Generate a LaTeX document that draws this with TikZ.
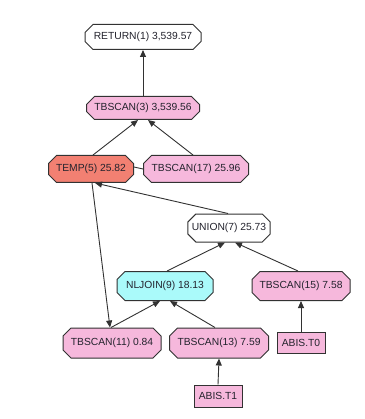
\documentclass[tikz,border=0pt]{standalone}
\usepackage{fontspec}
\setmainfont{Liberation Sans}
\usetikzlibrary{shapes.misc,arrows.meta}
\definecolor{pinkfill}{RGB}{246,184,220}
\definecolor{salmon}{RGB}{242,128,114}
\definecolor{cyanfill}{RGB}{170,250,250}
\definecolor{bordercol}{RGB}{50,50,50}
\definecolor{textcol}{RGB}{35,35,45}
\tikzset{
  op/.style={chamfered rectangle, chamfered rectangle xsep=4pt, chamfered rectangle ysep=4pt,
    draw=bordercol, line width=1pt, inner sep=0pt, font=\fontsize{10.3}{11}\selectfont,
    text=textcol},
  pinkop/.style={op, fill=pinkfill},
  tbl/.style={rectangle, draw=bordercol, line width=1pt, fill=pinkfill, inner sep=0pt,
    font=\fontsize{10.3}{11}\selectfont, text=textcol},
  edge/.style={draw=bordercol, line width=0.9pt, -{Triangle[length=7pt,width=6pt]}},
}
\begin{document}
\begin{tikzpicture}[x=1pt,y=-1pt]
\useasboundingbox (0,0) rectangle (364,419);
\fill[white] (0,0) rectangle (364,419);
\node[op, fill=white, minimum width=116pt, minimum height=25pt] (ret) at (143,37) {RETURN(1) 3,539.57};
\node[pinkop, minimum width=113pt, minimum height=23pt] (tb3) at (143,108) {TBSCAN(3) 3,539.56};
\node[op, fill=salmon, minimum width=85pt, minimum height=27pt] (temp) at (91,169) {TEMP(5) 25.82};
\node[pinkop, minimum width=105pt, minimum height=27pt] (tb17) at (196,169) {TBSCAN(17) 25.96};
\node[op, fill=white, minimum width=82pt, minimum height=28pt] (union) at (229,228) {UNION(7) 25.73};
\node[op, fill=cyanfill, minimum width=96pt, minimum height=29pt] (nl) at (165,286) {NLJOIN(9) 18.13};
\node[pinkop, minimum width=98pt, minimum height=29pt] (tb15) at (301,286) {TBSCAN(15) 7.58};
\node[pinkop, minimum width=98pt, minimum height=30pt] (tb11) at (112,343) {TBSCAN(11) 0.84};
\node[pinkop, minimum width=99pt, minimum height=30pt] (tb13) at (219,343) {TBSCAN(13) 7.59};
\node[tbl, minimum width=48pt, minimum height=22pt] (t1) at (218,396) {ABIS.T1};
\node[tbl, minimum width=48pt, minimum height=21pt] (t0) at (301,343) {ABIS.T0};

\draw[edge] (tb3.north) -- (ret.south);
\draw[edge] ([xshift=2pt]temp.north) -- ([xshift=-5pt]tb3.south);
\draw[edge] ([xshift=-3pt]tb17.north) -- ([xshift=5pt]tb3.south);
\draw[edge] ([xshift=-1pt]union.north) -- ([xshift=4pt]temp.south);
\draw[edge] ([xshift=1pt]temp.south) -- ([xshift=-2pt]tb11.north);
\draw[edge] ([xshift=2pt]nl.north) -- ([xshift=-4pt]union.south);
\draw[edge] ([xshift=-3pt]tb15.north) -- ([xshift=6pt]union.south);
\draw[edge] ([xshift=-1pt]tb11.north) -- ([xshift=-5pt]nl.south);
\draw[edge] ([xshift=-4pt]tb13.north) -- ([xshift=5pt]nl.south);
\draw[edge] (t1.north) -- (tb13.south);
\draw[edge] (t0.north) -- (tb15.south);
\draw[draw=bordercol, line width=0.9pt] ([yshift=2pt]temp.east) -- (tb17.west);
\end{tikzpicture}
\end{document}
